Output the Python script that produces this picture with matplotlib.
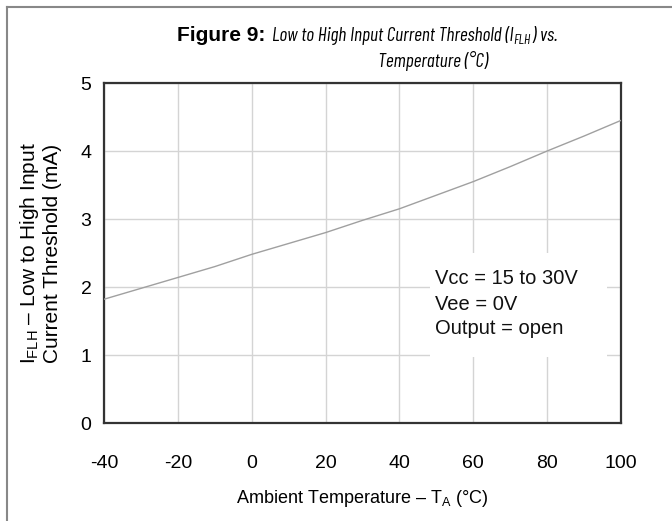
import matplotlib
matplotlib.use("Agg")
import matplotlib.pyplot as plt
from matplotlib.patches import Rectangle
from matplotlib.lines import Line2D
from matplotlib import font_manager
from matplotlib.font_manager import FontProperties

plt.rcParams['font.family'] = ['Liberation Sans', 'DejaVu Sans']
plt.rcParams['mathtext.fontset'] = 'custom'
plt.rcParams['mathtext.rm'] = 'Liberation Sans'
plt.rcParams['mathtext.it'] = 'Liberation Sans:italic'
plt.rcParams['mathtext.bf'] = 'Liberation Sans:bold'

# Data
temperature = [-40, -30, -20, -10, 0, 10, 20, 30, 40, 50, 60, 70, 80, 90, 100]
threshold = [1.82, 1.98, 2.14, 2.30, 2.48, 2.64, 2.80, 2.98, 3.15, 3.35, 3.55, 3.77, 4.00, 4.22, 4.45]
x_ticks = [-40, -20, 0, 20, 40, 60, 80, 100]
y_ticks = [0, 1, 2, 3, 4, 5]

fig = plt.figure(figsize=(6.72, 5.21), dpi=100)
W, H = 672, 521
renderer = fig.canvas.get_renderer()

# pick a regular-weight condensed italic face whose width at the title size is closest to the reference
TITLE1 = 'Low to High Input Current Threshold (IFLH) vs.'
REF_SIZE = 13.5
TARGET_W = 285

def text_width(prop):
    t = fig.text(0, 0, TITLE1, fontproperties=prop)
    w = t.get_window_extent(renderer=renderer).width
    t.remove()
    return w

def weight_num(w):
    if isinstance(w, int):
        return w
    return {'normal': 400, 'regular': 400, 'book': 400}.get(str(w).lower(), 700)

cands = [FontProperties(family='Liberation Sans', style='italic', size=REF_SIZE)]
seen = set()
for f in font_manager.fontManager.ttflist:
    n = f.name.lower()
    fn = f.fname.lower()
    stretch = str(f.stretch).lower()
    condensed = ('narrow' in n or 'condensed' in n or 'condensed' in stretch
                 or 'narrow' in fn or 'condensed' in fn)
    base = fn.rsplit('/', 1)[-1]
    heavy = any(k in base for k in ('medium', 'semibold', 'bold', 'black', 'heavy', 'light', 'thin'))
    if condensed and f.style in ('italic', 'oblique') and f.fname not in seen:
        if weight_num(f.weight) == 400 and not heavy:
            seen.add(f.fname)
            cands.append(FontProperties(fname=f.fname, size=REF_SIZE))
best = min(cands, key=lambda p: abs(text_width(p) - TARGET_W))
best_file = best.get_file()

def mk(size):
    if best_file:
        return FontProperties(fname=best_file, size=size)
    return FontProperties(family='Liberation Sans', style='italic', size=size)

ax = fig.add_axes([104/W, 1-423/H, (621-104)/W, (423-83)/H])

ax.plot(temperature, threshold, color='#a0a0a0', lw=1.0, zorder=3)
ax.set_xlim(-40, 100)
ax.set_ylim(0, 5)
ax.set_xticks(x_ticks)
ax.set_yticks(y_ticks)
ax.set_xticklabels([str(t) for t in x_ticks])
ax.tick_params(length=0, labelsize=14)
ax.tick_params(axis='x', pad=23)
ax.tick_params(axis='y', pad=9)
ax.grid(True, color='#d4d4d4', lw=1.0, zorder=0)
for s in ax.spines.values():
    s.set_color('#333333')
    s.set_linewidth(1.6)

ax.set_xlabel(r'Ambient Temperature – T$_{\mathrm{A}}$ (°C)', fontsize=13)
ax.xaxis.set_label_coords(0.5, (423-488)/340)
ax.set_ylabel('I$_{\\mathrm{FLH}}$ – Low to High Input\nCurrent Threshold (mA)', fontsize=15, linespacing=1.15)
ax.yaxis.set_label_coords((62-104)/517, 0.5)

# white annotation box hiding grid
ax.add_patch(Rectangle((48.2, 0.97), 47.9, 1.53, transform=ax.transData,
                       facecolor='white', edgecolor='none', zorder=2))
ax.text(49.6, 1.75, 'Vcc = 15 to 30V\nVee = 0V\nOutput = open', fontsize=14.5,
        va='center', ha='left', linespacing=1.4, zorder=4, color='#111111')

# figure titles
fig.text(177/W, 1-41/H, 'Figure 9:', fontsize=15, fontweight='bold', va='baseline', ha='left')

X0 = 272
def line1(size, draw):
    x = X0
    pieces = [('Low to High Input Current Threshold (I', size, 41, 0),
              ('FLH', size * 0.72, 43.5, 0),
              (') vs.', size, 41, 1)]
    arts = []
    for s, sz, y, gap in pieces:
        t = fig.text((x + gap)/W, 1-y/H, s, fontproperties=mk(sz), va='baseline', ha='left')
        x = t.get_window_extent(renderer=renderer).x1
        arts.append(t)
    if not draw:
        for a in arts:
            a.remove()
    return x - X0

w0 = line1(REF_SIZE, False)
tsize = REF_SIZE * TARGET_W / w0
line1(tsize, True)

fig.text(433/W, 1-67/H, 'Temperature (°C)', fontproperties=mk(tsize), va='baseline', ha='center')

# outer frame (left and top)
fig.add_artist(Line2D([7/W, 7/W], [0, 1-7/H], transform=fig.transFigure, color='#888888', lw=1.5))
fig.add_artist(Line2D([7/W, 1], [1-7/H, 1-7/H], transform=fig.transFigure, color='#888888', lw=1.5))

fig.savefig('out.png', dpi=100)
